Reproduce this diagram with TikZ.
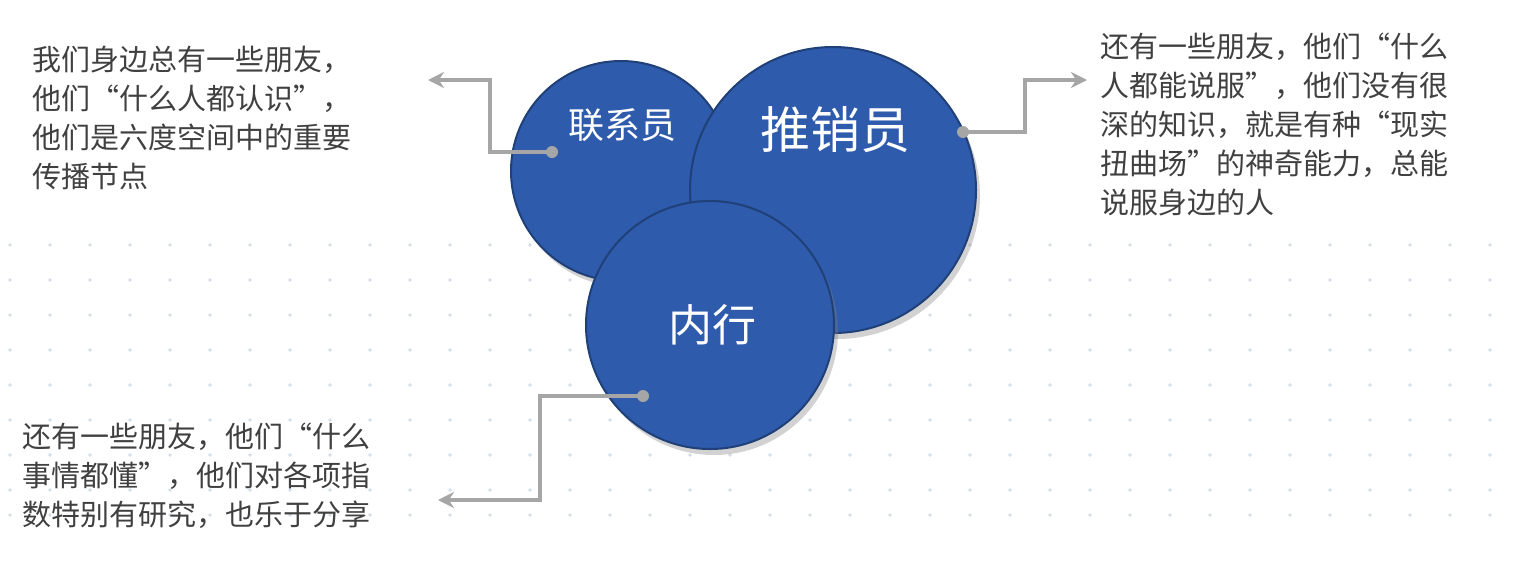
\documentclass[tikz,border=0pt]{standalone}
\usepackage{fontspec}
\newfontfamily\cjk{Noto Sans CJK SC}
\usetikzlibrary{shadows,arrows.meta}
\definecolor{circ}{HTML}{2E5BAC}
\definecolor{txt}{HTML}{404040}
\definecolor{conn}{HTML}{A6A6A6}
\definecolor{dotc}{HTML}{D5DDE8}
\begin{document}
\begin{tikzpicture}[x=0.5pt,y=-0.5pt,
  bubble/.style={circle,fill=circ,draw=circ!70!black,line width=1pt,text=white,font=\cjk,drop shadow={shadow xshift=2pt,shadow yshift=-3pt,opacity=0.35}},
  desc/.style={font=\cjk\fontsize{14.5}{19.5}\selectfont,text=txt,align=left,anchor=north west,inner sep=0pt},
  conline/.style={draw=conn,line width=1.6pt,-{Stealth[length=8pt,width=8pt]}},
  enddot/.style={circle,fill=conn,inner sep=0pt,minimum size=6pt}]
\useasboundingbox (0,0) rectangle (1526,574);
\fill[white] (0,0) rectangle (1526,574);
\foreach \yy in {245,280,315,350,385,420,455,490,515}{
  \foreach \xx in {10,50,...,1520}{\fill[dotc] (\xx,\yy) circle (1.8);}}
\node[bubble,minimum size=110pt] (a) at (621,171) {};
\node[font=\cjk\fontsize{18}{18}\selectfont,text=white] (al) at (622,125) {联系员};
\node[bubble,minimum size=143pt] (b) at (833,190) {};
\node[font=\cjk\fontsize{25}{25}\selectfont,text=white] (bl) at (835,130) {推销员};
\node[bubble,minimum size=124pt] (c) at (710,325) {};
\node[font=\cjk\fontsize{22}{22}\selectfont,text=white] (cl) at (712,325) {内行};
\node[enddot] (d1) at (552,152) {};
\node[enddot] (d2) at (963,132) {};
\node[enddot] (d3) at (643,396) {};
\coordinate (e1) at (428,80);
\coordinate (e2) at (1087,80);
\coordinate (e3) at (438,500);
\draw[conline] (d1.center) -| (490,80) -- (e1);
\draw[conline] (d2.center) -| (1025,80) -- (e2);
\draw[conline] (d3.center) -| (540,500) -- (e3);
\node[desc] (t1) at (32,46) {我们身边总有一些朋友，\\他们“什么人都认识”，\\他们是六度空间中的重要\\传播节点};
\node[desc] (t2) at (1100,33) {还有一些朋友，他们“什么\\人都能说服”，他们没有很\\深的知识，就是有种“现实\\扭曲场”的神奇能力，总能\\说服身边的人};
\node[desc] (t3) at (22,423) {还有一些朋友，他们“什么\\事情都懂”，他们对各项指\\数特别有研究，也乐于分享};
\end{tikzpicture}
\end{document}
